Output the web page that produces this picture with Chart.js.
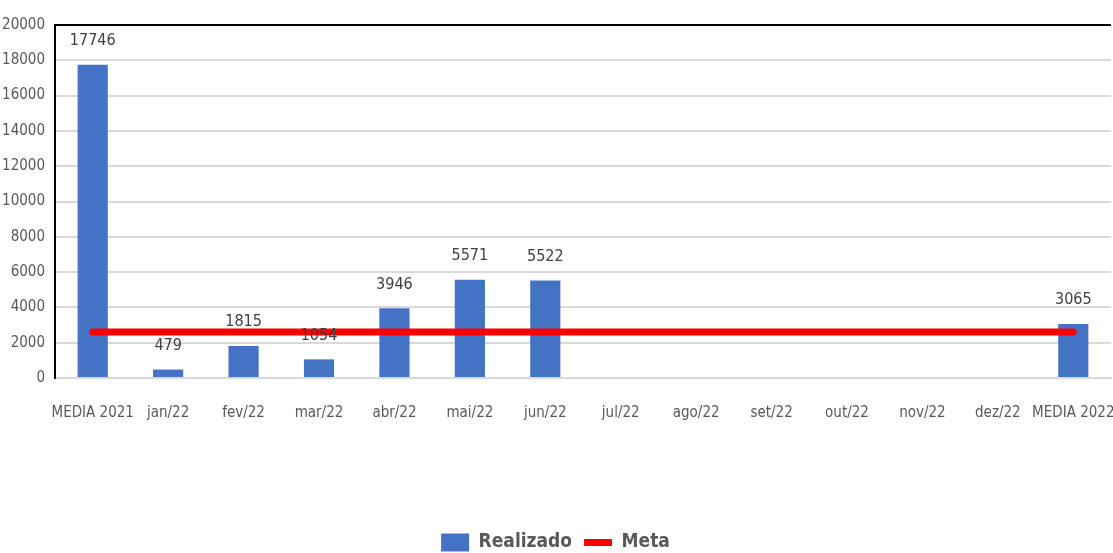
<!DOCTYPE html>
<html>
<head>
<meta charset="utf-8">
<script src="https://cdn.jsdelivr.net/npm/chart.js@4/dist/chart.umd.min.js"></script>
<style>
    html, body { margin: 0; padding: 0; background: #fff; }
    #wrap { width: 1113px; height: 553px; }
</style>
</head>
<body>
<div id="wrap"><canvas id="chart" width="1113" height="553"></canvas></div>
<script>
const categories = ["MEDIA 2021", "jan/22", "fev/22", "mar/22", "abr/22", "mai/22", "jun/22",
    "jul/22", "ago/22", "set/22", "out/22", "nov/22", "dez/22", "MEDIA 2022"];
const realizado = [17746, 479, 1815, 1054, 3946, 5571, 5522, null, null, null, null, null, null, 3065];
const meta = [2600, 2600, 2600, 2600, 2600, 2600, 2600, 2600, 2600, 2600, 2600, 2600, 2600, 2600];
const yTicks = [0, 2000, 4000, 6000, 8000, 10000, 12000, 14000, 16000, 18000, 20000];

const FONT = "'Liberation Sans Narrow', 'DejaVu Sans Condensed', 'Liberation Sans', sans-serif";
const GRAY = "#595959";

// values above the bars
const barLabels = {
    id: "barLabels",
    afterDatasetsDraw(chart) {
        const ctx = chart.ctx;
        const meta0 = chart.getDatasetMeta(0);
        ctx.save();
        ctx.font = "16px " + FONT;
        ctx.fillStyle = "#404040";
        ctx.textAlign = "center";
        ctx.textBaseline = "bottom";
        meta0.data.forEach((bar, i) => {
            const v = realizado[i];
            if (v === null) return;
            ctx.fillText(String(v), bar.x, bar.y - 16);
        });
        ctx.restore();
    }
};

// black frame line at the top of the plot
const topBorder = {
    id: "topBorder",
    beforeDatasetsDraw(chart) {
        const { ctx, chartArea } = chart;
        ctx.save();
        ctx.strokeStyle = "#000";
        ctx.lineWidth = 2;
        ctx.beginPath();
        ctx.moveTo(chartArea.left - 1, chartArea.top);
        ctx.lineTo(chartArea.right, chartArea.top);
        ctx.stroke();
        ctx.restore();
    }
};

new Chart(document.getElementById("chart"), {
    data: {
        labels: categories,
        datasets: [
            {
                type: "bar",
                label: "Realizado",
                data: realizado,
                backgroundColor: "#4472C4",
                borderWidth: 0,
                pointStyle: "rect",
                categoryPercentage: 1,
                barPercentage: 0.4,
                order: 2
            },
            {
                type: "line",
                label: "Meta",
                data: meta,
                borderColor: "#FF0000",
                backgroundColor: "#FF0000",
                borderWidth: 7,
                borderCapStyle: "round",
                pointRadius: 0,
                pointHoverRadius: 0,
                pointStyle: "line",
                fill: false,
                order: 1
            }
        ]
    },
    options: {
        responsive: false,
        animation: false,
        layout: { padding: { top: 25, right: 2, left: 0, bottom: -9 } },
        plugins: {
            tooltip: { enabled: false },
            legend: {
                position: "bottom",
                labels: {
                    usePointStyle: true,
                    pointStyleWidth: 28,
                    boxHeight: 18,
                    padding: 12,
                    color: GRAY,
                    font: { family: FONT, size: 19, weight: "bold" },
                    sort: (a, b) => a.datasetIndex - b.datasetIndex
                }
            }
        },
        scales: {
            x: {
                grid: { display: false, drawTicks: false },
                border: { color: "#d9d9d9", width: 2 },
                ticks: {
                    color: GRAY,
                    padding: 26,
                    maxRotation: 0,
                    autoSkip: false,
                    font: { family: FONT, size: 15 }
                },
                afterFit(scale) {
                    scale.height = 143;
                    scale.paddingLeft = 0;
                    scale.paddingRight = 0;
                }
            },
            y: {
                min: 0,
                max: 20000,
                afterBuildTicks(scale) { scale.ticks = yTicks.map(v => ({ value: v })); },
                grid: { color: "#d9d9d9", lineWidth: 2, drawTicks: false },
                border: { color: "#000", width: 2 },
                ticks: {
                    color: GRAY,
                    padding: 10,
                    font: { family: FONT, size: 15 },
                    callback: (v) => String(v)
                },
                afterFit(scale) { scale.width = 55; }
            }
        }
    },
    plugins: [barLabels, topBorder]
});
</script>
</body>
</html>
